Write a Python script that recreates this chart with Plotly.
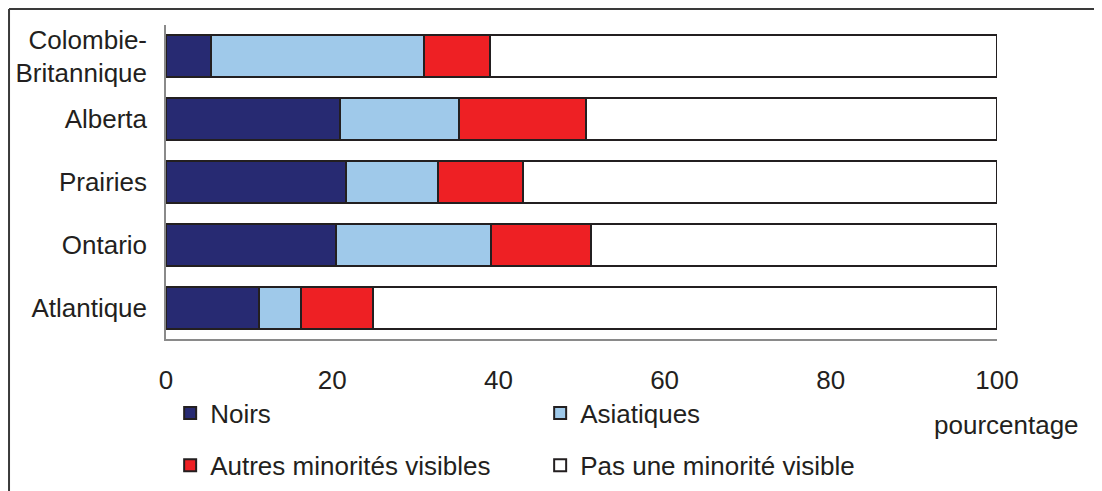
import plotly.graph_objects as go

regions = ["Colombie-<br>Britannique", "Alberta", "Prairies", "Ontario", "Atlantique"]
noirs = [5.4, 20.9, 21.7, 20.4, 11.2]
asiatiques = [25.7, 14.4, 11.0, 18.7, 5.1]
autres = [7.9, 15.2, 10.2, 12.1, 8.6]
pas_minorite = [61.0, 49.5, 57.1, 48.8, 75.1]

series = [
    ("Noirs", noirs, "#272a72", "legend"),
    ("Asiatiques", asiatiques, "#9fc9ea", "legend"),
    ("Autres minorités visibles", autres, "#ee2024", "legend2"),
    ("Pas une minorité visible", pas_minorite, "#ffffff", "legend2"),
]

FONT = "Liberation Sans, Arial, sans-serif"
INK = "#231f20"

fig = go.Figure()
for name, vals, color, leg in series:
    fig.add_trace(
        go.Bar(
            y=regions,
            x=vals,
            orientation="h",
            name=name,
            marker=dict(color=color, line=dict(color=INK, width=2)),
            legend=leg,
        )
    )

legend_common = dict(
    orientation="h",
    traceorder="normal",
    xanchor="left",
    yanchor="middle",
    x=0.005,
    entrywidth=325,
    entrywidthmode="pixels",
    font=dict(family=FONT, size=26, color=INK),
    bgcolor="rgba(0,0,0,0)",
    itemclick=False,
)

# page body has an 8px margin, so the figure is sized 8px smaller
fig.update_layout(
    barmode="stack",
    bargap=0.333,
    width=1094,
    height=483,
    margin=dict(l=158, r=105, t=17, b=152, autoexpand=False),
    paper_bgcolor="white",
    plot_bgcolor="white",
    font=dict(family=FONT, size=26, color=INK),
    xaxis=dict(
        range=[0, 100],
        tickvals=[0, 20, 40, 60, 80, 100],
        automargin=False,
        showgrid=False,
        zeroline=False,
        showline=True,
        linecolor="#8a8a8a",
        linewidth=1.5,
        ticks="outside",
        ticklen=0,
        ticklabelstandoff=17,
        tickfont=dict(family=FONT, size=26, color=INK),
    ),
    yaxis=dict(
        autorange="reversed",
        automargin=False,
        showgrid=False,
        zeroline=False,
        showline=True,
        linecolor="#8a8a8a",
        linewidth=1.5,
        ticks="outside",
        ticklen=0,
        ticklabelstandoff=12,
        tickfont=dict(family=FONT, size=26, color=INK),
    ),
    legend=dict(legend_common, y=-0.236),
    legend2=dict(legend_common, y=-0.402),
    annotations=[
        dict(
            text="pourcentage",
            xref="paper",
            yref="paper",
            x=1.012,
            y=-0.274,
            xanchor="center",
            yanchor="middle",
            showarrow=False,
            font=dict(family=FONT, size=26, color=INK),
        )
    ],
    shapes=[
        dict(type="line", xref="paper", yref="paper", x0=-0.1889, x1=-0.1889,
             y0=1.051, y1=-0.49, line=dict(color="#3a3a3a", width=2)),
        dict(type="line", xref="paper", yref="paper", x0=-0.1889, x1=1.13,
             y0=1.051, y1=1.051, line=dict(color="#3a3a3a", width=2)),
    ],
)

fig.write_html("out.html")
